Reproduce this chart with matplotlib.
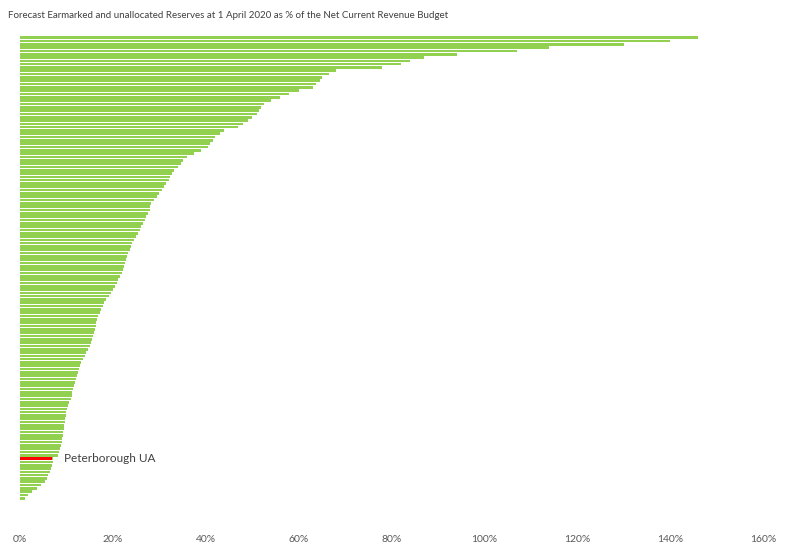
import matplotlib.pyplot as plt
import numpy as np

# reserves as % of net current revenue budget, sorted largest first
reserves_pct = [
    146, 140, 130, 114, 107, 94, 87, 84, 82, 78, 68, 66.5,
    65, 64.5, 63.8, 63, 60, 58, 56, 54, 52.5, 52, 51.5, 51, 50, 49, 48, 47,
    44, 43, 42, 41.5, 41, 40.5, 39, 37.5, 36, 35, 34.6, 34, 33.2, 32.8, 32.2,
    32, 31.5, 31, 30.5, 30, 29.4, 28.8, 28.3, 28.1, 27.9, 27.6, 27.2, 27,
    26.5, 26.1, 25.8, 25.4, 25, 24.6, 24.2, 23.8, 23.6, 23.3, 23.1, 22.8,
    22.6, 22.4, 22.2, 22, 21.5, 21.1, 20.8, 20.4, 20, 19.7, 19.2, 18.5, 18.1,
    17.8, 17.5, 17.2, 16.8, 16.5, 16.4, 16.3, 16.1, 16, 15.8, 15.6, 15.3, 15,
    14.6, 14.2, 13.9, 13.6, 13.2, 12.9, 12.7, 12.5, 12.3, 12.1, 11.8, 11.6,
    11.4, 11.2, 11.1, 10.9, 10.6, 10.4, 10.2, 10.0, 9.9, 9.7, 9.6, 9.5, 9.4,
    9.3, 9.2, 9.1, 9.0, 8.9, 8.7, 8.5, 8.2, 7.1, 7.0, 6.8, 6.6, 6.4, 6.0,
    5.8, 5.3, 4.6, 3.6, 2.6, 1.8, 1.0,
]
highlight_name = "Peterborough UA"
highlight_value = 7.1
xticks = [0, 20, 40, 60, 80, 100, 120, 140, 160]
title = "Forecast Earmarked and unallocated Reserves at 1 April 2020 as % of the Net Current Revenue Budget"

n = len(reserves_pct)
pos = np.arange(n)
hi = reserves_pct.index(highlight_value)
font = ["Lato", "DejaVu Sans"]

fig = plt.figure(figsize=(7.9, 5.47), dpi=100)
ax = fig.add_axes([20 / 790, (547 - 500) / 547, 743 / 790, 464 / 547])

ax.barh(pos, reserves_pct, height=0.8, color="#92D050", edgecolor="none")
# highlighted authority drawn on top in red
ax.barh(hi, highlight_value, height=1.1, left=-0.3, color="#FF0000", edgecolor="none")
ax.text(highlight_value + 2.4, hi, highlight_name, va="center", ha="left",
        fontsize=8.5, color="#404040", family=font)

ax.set_xlim(0, 160)
ax.set_ylim(n - 0.5, -0.5)
ax.set_xticks(xticks)
ax.set_xticklabels([f"{t}%" for t in xticks], fontsize=7.5, color="#595959", family=font)
ax.set_yticks([])
ax.tick_params(axis="x", length=0, pad=25)
for s in ax.spines.values():
    s.set_visible(False)

fig.text(8 / 790, 1 - 15 / 547, title, fontsize=7.0, color="#404040",
         family=font, va="center", ha="left")

fig.savefig("out.png", dpi=100)
